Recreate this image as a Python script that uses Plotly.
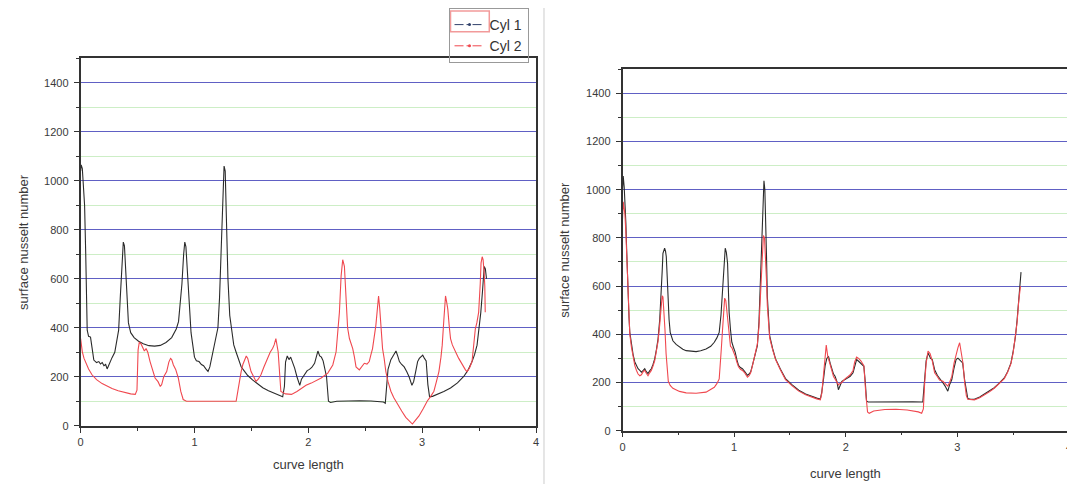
import plotly.graph_objects as go

# ---------------- data ----------------
left_cyl1_x = [0.0, 0.005, 0.015, 0.025, 0.035, 0.045, 0.058, 0.07, 0.087, 0.10, 0.116, 0.14, 0.16, 0.174, 0.19,
               0.205, 0.22, 0.233, 0.25, 0.276, 0.30, 0.32, 0.334, 0.348, 0.363, 0.375, 0.385, 0.395, 0.407, 0.42,
               0.44, 0.47, 0.509, 0.55, 0.60, 0.65, 0.70, 0.75, 0.80, 0.84, 0.86, 0.875, 0.89, 0.905, 0.915, 0.925,
               0.94, 0.955, 0.97, 0.985, 1.0, 1.017, 1.04, 1.061, 1.08, 1.10, 1.119, 1.135, 1.148, 1.165, 1.177,
               1.195, 1.206, 1.22, 1.235, 1.25, 1.26, 1.27, 1.28, 1.294, 1.31, 1.323, 1.345, 1.366, 1.39, 1.41,
               1.44, 1.468, 1.51, 1.555, 1.60, 1.65, 1.70, 1.74, 1.775, 1.79, 1.80, 1.815, 1.83, 1.845, 1.86, 1.88,
               1.90, 1.925, 1.94, 1.968, 1.99, 2.01, 2.03, 2.055, 2.07, 2.084, 2.10, 2.115, 2.13, 2.145, 2.16,
               2.177, 2.195, 2.25, 2.35, 2.45, 2.55, 2.64, 2.66, 2.676, 2.69, 2.70, 2.725, 2.75, 2.77, 2.785, 2.80,
               2.82, 2.842, 2.865, 2.885, 2.91, 2.925, 2.943, 2.96, 2.975, 2.99, 3.005, 3.02, 3.035, 3.05, 3.065,
               3.09, 3.132, 3.19, 3.249, 3.31, 3.365, 3.40, 3.438, 3.46, 3.482, 3.50, 3.515, 3.53, 3.545, 3.555,
               3.565]
left_cyl1_y = [1040, 1065, 1050, 980, 900, 700, 390, 365, 362, 320, 268, 258, 262, 252, 258,
               245, 250, 232, 252, 278, 300, 345, 390, 520, 680, 750, 735, 640, 540, 420,
               380, 360, 345, 335, 327, 325, 328, 340, 360, 395, 425, 490, 580, 700, 750, 730,
               600, 470, 380, 330, 280, 265, 262, 250, 245, 232, 222, 240, 270, 300, 330,
               370, 400, 520, 730, 950, 1060, 1040, 850, 600, 450, 396, 330, 300, 265, 241,
               222, 205, 187, 170, 155, 143, 133, 124, 118, 160, 260, 285, 270, 280, 262, 235,
               200, 165, 190, 212, 225, 230, 238, 255, 285, 305, 285, 280, 265, 230, 200,
               100, 95, 100, 102, 102, 101, 100, 97, 92, 180, 230, 270, 290, 305, 285, 262,
               250, 240, 220, 200, 165, 180, 221, 262, 275, 280, 288, 275, 265, 168, 118,
               120, 128, 140, 154, 175, 201, 225, 262, 290, 329, 390, 463, 550, 650, 640,
               600]

left_cyl2_x = [0.0, 0.015, 0.03, 0.044, 0.07, 0.10, 0.14, 0.189, 0.24, 0.276, 0.33, 0.392, 0.44, 0.48, 0.495,
               0.505, 0.515, 0.53, 0.545, 0.56, 0.575, 0.59, 0.61, 0.63, 0.654, 0.68, 0.70, 0.712, 0.73, 0.756,
               0.775, 0.79, 0.80, 0.815, 0.835, 0.858, 0.88, 0.901, 0.93, 1.0, 1.1, 1.2, 1.3, 1.366, 1.381,
               1.395, 1.41, 1.425, 1.439, 1.455, 1.468, 1.485, 1.497, 1.52, 1.541, 1.56, 1.584, 1.61, 1.642,
               1.665, 1.686, 1.70, 1.715, 1.725, 1.735, 1.75, 1.759, 1.80, 1.852, 1.90, 1.939, 1.98, 2.026,
               2.07, 2.113, 2.171, 2.215, 2.244, 2.262, 2.273, 2.288, 2.302, 2.317, 2.332, 2.345, 2.361, 2.39,
               2.405, 2.419, 2.448, 2.47, 2.492, 2.515, 2.535, 2.55, 2.564, 2.593, 2.605, 2.617, 2.627, 2.637,
               2.652, 2.666, 2.681, 2.70, 2.725, 2.75, 2.783, 2.82, 2.856, 2.89, 2.914, 2.94, 2.972, 3.01,
               3.045, 3.075, 3.103, 3.125, 3.147, 3.165, 3.176, 3.19, 3.205, 3.215, 3.225, 3.237, 3.249, 3.265,
               3.278, 3.30, 3.321, 3.345, 3.365, 3.38, 3.394, 3.415, 3.438, 3.455, 3.467, 3.48, 3.496, 3.51,
               3.517, 3.527, 3.535, 3.545, 3.55, 3.554]
left_cyl2_y = [356, 302, 275, 258, 232, 208, 188, 172, 160, 152, 143, 135, 130, 128, 145,
               310, 340, 335, 320, 305, 315, 300, 262, 230, 195, 180, 160, 168, 200, 221,
               260, 275, 270, 248, 230, 195, 140, 107, 100, 100, 100, 100, 100, 100, 141,
               190, 221, 250, 270, 285, 275, 240, 221, 200, 181, 190, 208, 240, 275,
               300, 315, 330, 356, 330, 302, 200, 140, 130, 128, 140, 154, 165, 174,
               185, 195, 215, 248, 302, 400, 463, 611, 678, 651, 490, 400, 356, 315,
               280, 240, 228, 240, 255, 252, 262, 290, 315, 409, 470, 530, 480, 423,
               315, 275, 221, 180, 141, 115, 87, 60, 34, 18, 7, 22, 40, 70,
               101, 120, 141, 180, 221, 280, 329, 430, 530, 505, 476, 410, 356, 330,
               315, 295, 275, 255, 235, 228, 221, 235, 262, 330, 396, 420, 463, 580,
               664, 690, 678, 620, 570, 463]

right_cyl1_x = [0.0, 0.006, 0.015, 0.021, 0.03, 0.036, 0.043, 0.05, 0.058, 0.065, 0.08, 0.095, 0.11, 0.125,
                0.139, 0.155, 0.169, 0.185, 0.199, 0.213, 0.228, 0.243, 0.258, 0.273, 0.288, 0.303, 0.318,
                0.333, 0.347, 0.355, 0.362, 0.377, 0.385, 0.392, 0.40, 0.407, 0.417, 0.427, 0.44, 0.451, 0.48,
                0.51, 0.54, 0.57, 0.61, 0.659, 0.70, 0.748, 0.79, 0.822, 0.845, 0.866, 0.882, 0.896, 0.91,
                0.92, 0.93, 0.941, 0.948, 0.955, 0.967, 0.979, 0.994, 1.009, 1.024, 1.039, 1.056, 1.074, 1.095,
                1.119, 1.134, 1.148, 1.163, 1.178, 1.193, 1.208, 1.222, 1.237, 1.252, 1.267, 1.275, 1.282,
                1.29, 1.297, 1.308, 1.318, 1.345, 1.371, 1.415, 1.46, 1.52, 1.579, 1.64, 1.697, 1.74, 1.772,
                1.785, 1.801, 1.815, 1.83, 1.845, 1.86, 1.874, 1.89, 1.904, 1.92, 1.934, 1.945, 1.965, 1.993,
                2.02, 2.04, 2.065, 2.08, 2.097, 2.115, 2.135, 2.162, 2.175, 2.186, 2.20, 2.3, 2.4, 2.5, 2.6,
                2.69, 2.70, 2.707, 2.72, 2.737, 2.76, 2.775, 2.796, 2.82, 2.84, 2.87, 2.89, 2.914, 2.93, 2.95,
                2.97, 2.988, 3.005, 3.02, 3.047, 3.065, 3.08, 3.093, 3.12, 3.152, 3.20, 3.241, 3.29, 3.33,
                3.37, 3.42, 3.45, 3.48, 3.50, 3.52, 3.535, 3.55, 3.57]
right_cyl1_y = [1000, 1057, 1010, 968, 860, 763, 650, 558, 470, 408, 353, 315, 285, 268,
                257, 250, 243, 250, 257, 245, 237, 248, 257, 275, 298, 335, 380,
                460, 558, 660, 736, 757, 745, 722, 640, 558, 460, 408, 385, 373, 358,
                346, 338, 332, 329, 328, 332, 339, 350, 367, 385, 408, 480, 599, 720,
                757, 740, 695, 590, 490, 420, 367, 345, 326, 295, 271, 262, 257, 245,
                230, 235, 244, 270, 298, 325, 353, 450, 627, 850, 1037, 1000, 900,
                720, 558, 460, 394, 340, 298, 255, 216, 190, 168, 152, 141, 135, 131,
                160, 216, 270, 300, 308, 280, 253, 235, 226, 205, 170, 185, 205, 212,
                220, 226, 240, 270, 295, 288, 280, 267, 200, 123, 119, 120, 120, 120, 120,
                119, 180, 240, 290, 322, 300, 295, 253, 230, 219, 199, 185, 164, 190, 212,
                260, 295, 301, 295, 281, 210, 158, 133, 130, 130, 140, 151, 165, 178,
                195, 219, 245, 281, 330, 390, 460, 555, 658]

right_cyl2_x = [0.0, 0.006, 0.012, 0.021, 0.03, 0.036, 0.043, 0.05, 0.058, 0.065, 0.08, 0.095, 0.11, 0.125,
                0.139, 0.155, 0.169, 0.185, 0.199, 0.213, 0.228, 0.243, 0.258, 0.273, 0.288, 0.303, 0.318,
                0.333, 0.347, 0.355, 0.362, 0.372, 0.38, 0.39, 0.40, 0.41, 0.427, 0.451, 0.51, 0.57, 0.659,
                0.748, 0.822, 0.845, 0.866, 0.875, 0.885, 0.896, 0.905, 0.915, 0.925, 0.935, 0.945, 0.955,
                0.967, 0.979, 0.994, 1.009, 1.024, 1.039, 1.056, 1.074, 1.095, 1.119, 1.134, 1.148, 1.163,
                1.178, 1.193, 1.208, 1.222, 1.237, 1.252, 1.262, 1.272, 1.282, 1.29, 1.297, 1.308, 1.318,
                1.345, 1.371, 1.415, 1.46, 1.52, 1.579, 1.64, 1.697, 1.74, 1.772, 1.785, 1.80, 1.815, 1.825,
                1.838, 1.86, 1.874, 1.89, 1.904, 1.92, 1.934, 1.945, 1.965, 1.993, 2.02, 2.04, 2.065, 2.08,
                2.097, 2.115, 2.135, 2.162, 2.18, 2.195, 2.21, 2.25, 2.35, 2.45, 2.55, 2.65, 2.68, 2.695,
                2.707, 2.72, 2.737, 2.755, 2.775, 2.796, 2.82, 2.84, 2.87, 2.89, 2.914, 2.93, 2.95, 2.97,
                2.99, 3.005, 3.02, 3.035, 3.05, 3.065, 3.08, 3.093, 3.12, 3.152, 3.20, 3.241, 3.29, 3.33,
                3.37, 3.42, 3.45, 3.48, 3.50, 3.52, 3.535, 3.55, 3.565]
right_cyl2_y = [880, 950, 930, 900, 820, 740, 640, 540, 460, 400, 345, 305, 270, 250,
                235, 228, 232, 245, 250, 238, 228, 240, 250, 268, 290, 330, 370,
                440, 520, 560, 555, 500, 420, 320, 240, 205, 188, 176, 163, 157, 155,
                160, 180, 195, 215, 260, 340, 420, 510, 550, 540, 490, 430, 380,
                350, 345, 330, 310, 285, 265, 255, 250, 240, 222, 228, 240, 268,
                300, 330, 360, 430, 560, 720, 810, 800, 720, 620, 520, 440, 385,
                335, 295, 252, 212, 186, 164, 149, 138, 132, 128, 155, 230, 330, 355,
                310, 270, 245, 225, 215, 200, 190, 195, 200, 215, 225, 232, 250, 285,
                305, 300, 290, 270, 150, 78, 72, 82, 88, 89, 86, 78, 72, 90,
                200, 280, 330, 320, 290, 240, 225, 210, 205, 195, 185, 200, 225, 280,
                320, 345, 365, 330, 280, 200, 145, 130, 128, 128, 137, 148, 162, 176,
                193, 216, 242, 278, 325, 385, 450, 540, 600]

series_names = ["Cyl 1", "Cyl 2"]
x_ticks = [0, 1, 2, 3, 4]
y_ticks = [0, 200, 400, 600, 800, 1000, 1200, 1400]
x_title = "curve length"
y_title = "surface nusselt number"

# ---------------- styling ----------------
# The page body has a default 8px margin, so the figure is made 8px smaller
# and all page-pixel positions are shifted by that offset.
OFF = 8
W, H = 1075 - OFF, 490 - OFF
C1 = "#2b2b2b"
C2 = "#f0484f"
MAJOR_GRID = "#6060c4"
MINOR_GRID = "#cdeec6"
TICK_FONT = dict(family="Arial, Liberation Sans, sans-serif", size=11, color="#3a3a3a")
TITLE_FONT = dict(family="Arial, Liberation Sans, sans-serif", size=13, color="#3a3a3a")


def px_x(p):
    return (p - OFF) / W


def px_y(p):
    return 1 - (p - OFF) / H


fig = go.Figure()

fig.add_trace(go.Scatter(x=left_cyl1_x, y=left_cyl1_y, mode="lines", line=dict(color=C1, width=1.1),
                         showlegend=False, xaxis="x", yaxis="y"))
fig.add_trace(go.Scatter(x=left_cyl2_x, y=left_cyl2_y, mode="lines", line=dict(color=C2, width=1.1),
                         showlegend=False, xaxis="x", yaxis="y"))
fig.add_trace(go.Scatter(x=right_cyl1_x, y=right_cyl1_y, mode="lines", line=dict(color=C1, width=1.1),
                         showlegend=False, xaxis="x2", yaxis="y2"))
fig.add_trace(go.Scatter(x=right_cyl2_x, y=right_cyl2_y, mode="lines", line=dict(color=C2, width=1.1),
                         showlegend=False, xaxis="x2", yaxis="y2"))

# legend-only entries (dash-dot with a dot marker, as in the reference legend)
for name, col in zip(series_names, ["#30406a", C2]):
    fig.add_trace(go.Scatter(x=[None], y=[None], name=name, mode="lines+markers",
                             line=dict(color=col, width=1, dash="dashdot"),
                             marker=dict(color=col, size=3), xaxis="x", yaxis="y"))

xaxis_common = dict(range=[0, 4], tickvals=x_ticks, ticks="outside", ticklen=5, tickwidth=1,
                    tickcolor="#333", showline=True, linecolor="#333", linewidth=1.6, mirror=True,
                    showgrid=False, zeroline=False, tickfont=TICK_FONT, fixedrange=True,
                    minor=dict(dtick=0.5, ticks="outside", ticklen=3, tickcolor="#333", showgrid=False))
yaxis_common = dict(range=[0, 1500], tickvals=y_ticks, ticks="outside", ticklen=5, tickwidth=1,
                    tickcolor="#333", showline=True, linecolor="#333", linewidth=1.6, mirror=True,
                    showgrid=True, gridcolor=MAJOR_GRID, gridwidth=1, zeroline=False, tickfont=TICK_FONT,
                    fixedrange=True, ticklabelstandoff=3,
                    minor=dict(dtick=100, ticks="outside", ticklen=3, tickcolor="#333", showgrid=True,
                               gridcolor=MINOR_GRID, gridwidth=1))

fig.update_layout(
    width=W, height=H,
    margin=dict(l=0, r=0, t=0, b=0),
    paper_bgcolor="white",
    plot_bgcolor="white",
    xaxis=dict(domain=[px_x(78), px_x(536)], anchor="y", **xaxis_common),
    yaxis=dict(domain=[px_y(431), px_y(59)], anchor="x", **yaxis_common),
    xaxis2=dict(domain=[px_x(623), px_x(1072)], anchor="y2", **xaxis_common),
    yaxis2=dict(domain=[px_y(436), px_y(70)], anchor="x2", **yaxis_common),
    showlegend=True,
    legend=dict(x=px_x(448), y=px_y(8), xanchor="left", yanchor="top",
                bgcolor="rgba(255,255,255,0)", bordercolor="#999999", borderwidth=1,
                font=dict(family="Arial, Liberation Sans, sans-serif", size=14, color="#333"),
                tracegroupgap=0, itemwidth=30),
    shapes=[
        dict(type="line", xref="paper", yref="paper", x0=px_x(544), x1=px_x(544), y0=0, y1=1,
             line=dict(color="#cccccc", width=1)),
        dict(type="rect", xref="paper", yref="paper", x0=px_x(450), x1=px_x(489), y0=px_y(32), y1=px_y(11),
             line=dict(color="#f29a9a", width=1.5)),
    ],
    annotations=[
        dict(text=y_title, xref="paper", yref="paper", x=px_x(20), y=px_y(245), showarrow=False,
             textangle=-90, font=TITLE_FONT, xanchor="center", yanchor="middle"),
        dict(text=x_title, xref="paper", yref="paper", x=px_x(307), y=px_y(470), showarrow=False,
             font=TITLE_FONT, xanchor="center", yanchor="middle"),
        dict(text=y_title, xref="paper", yref="paper", x=px_x(565), y=px_y(253), showarrow=False,
             textangle=-90, font=TITLE_FONT, xanchor="center", yanchor="middle"),
        dict(text=x_title, xref="paper", yref="paper", x=px_x(847), y=px_y(479), showarrow=False,
             font=TITLE_FONT, xanchor="center", yanchor="middle"),
    ],
)

fig.write_html("out.html")
